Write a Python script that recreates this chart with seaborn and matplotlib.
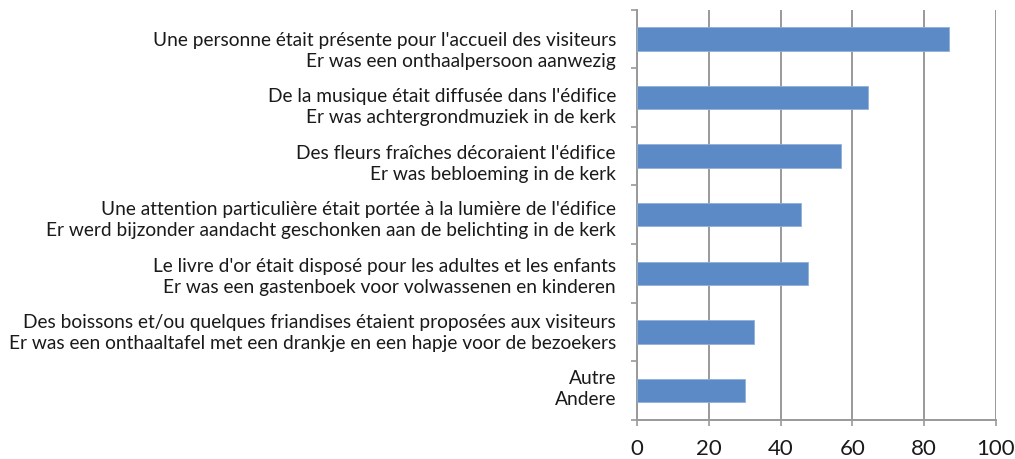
import matplotlib
matplotlib.use("Agg")
import matplotlib.pyplot as plt
import matplotlib.transforms as mtransforms
import seaborn as sns
import pandas as pd
import numpy as np

categories = [
    "Une personne était présente pour l'accueil des visiteurs\nEr was een onthaalpersoon aanwezig",
    "De la musique était diffusée dans l'édifice\nEr was achtergrondmuziek in de kerk",
    "Des fleurs fraîches décoraient l'édifice\nEr was bebloeming in de kerk",
    "Une attention particulière était portée à la lumière de l'édifice\nEr werd bijzonder aandacht geschonken aan de belichting in de kerk",
    "Le livre d'or était disposé pour les adultes et les enfants\nEr was een gastenboek voor volwassenen en kinderen",
    "Des boissons et/ou quelques friandises étaient proposées aux visiteurs\nEr was een onthaaltafel met een drankje en een hapje voor de bezoekers",
    "Autre\nAndere",
]
values = [87, 64.4, 56.8, 45.6, 47.5, 32.5, 30.0]
x_ticks = [0, 20, 40, 60, 80, 100]

sns.set_theme(style="white")
plt.rcParams['font.family'] = ['Lato', 'DejaVu Sans']

df = pd.DataFrame({"cat": categories, "val": values})

fig = plt.figure(figsize=(10.15, 4.6), dpi=100)
ax = fig.add_axes([637/1015, 1 - 420.7/460, (996-637)/1015, (420.7-10.7)/460])

sns.barplot(data=df, y="cat", x="val", orient="h", color="#5B8AC6",
            width=0.4, saturation=1, edgecolor="#8FB0DA", linewidth=0.6,
            ax=ax, zorder=3)

gray = "#999999"
ax.set_xlim(0, 100)
ax.set_ylim(len(categories) - 0.5, -0.5)
ax.set_xticks(x_ticks)
ax.set_xticklabels([str(t) for t in x_ticks], fontsize=16, color="#1a1a1a")
ax.xaxis.grid(True, color=gray, linewidth=1.4, zorder=0)
ax.yaxis.grid(False)
ax.set_xlabel("")
ax.set_ylabel("")

for s in ["top", "right"]:
    ax.spines[s].set_visible(False)
for s in ["left", "bottom"]:
    ax.spines[s].set_color(gray)
    ax.spines[s].set_linewidth(1.4)

ax.tick_params(axis="x", which="major", direction="out", length=4, width=1.2,
               color=gray, pad=9, bottom=True)
ax.tick_params(axis="y", which="major", length=0, labelleft=False)
ax.set_yticks(np.arange(-0.5, len(categories), 1), minor=True)
ax.tick_params(axis="y", which="minor", direction="out", length=4, width=1.2,
               color=gray, left=True)

# category labels; the original spaces them slightly tighter than the bars
for i, cat in enumerate(categories):
    dy = (11 - 2.17 * i) / 100
    offset = mtransforms.ScaledTranslation(-21/100, -dy, fig.dpi_scale_trans)
    trans = ax.get_yaxis_transform() + offset
    ax.text(0, i, cat, transform=trans, ha="right", va="center",
            multialignment="right", fontsize=13.8, color="#1a1a1a",
            linespacing=1.28, clip_on=False)

fig.savefig("out.png", dpi=100, facecolor="white")
